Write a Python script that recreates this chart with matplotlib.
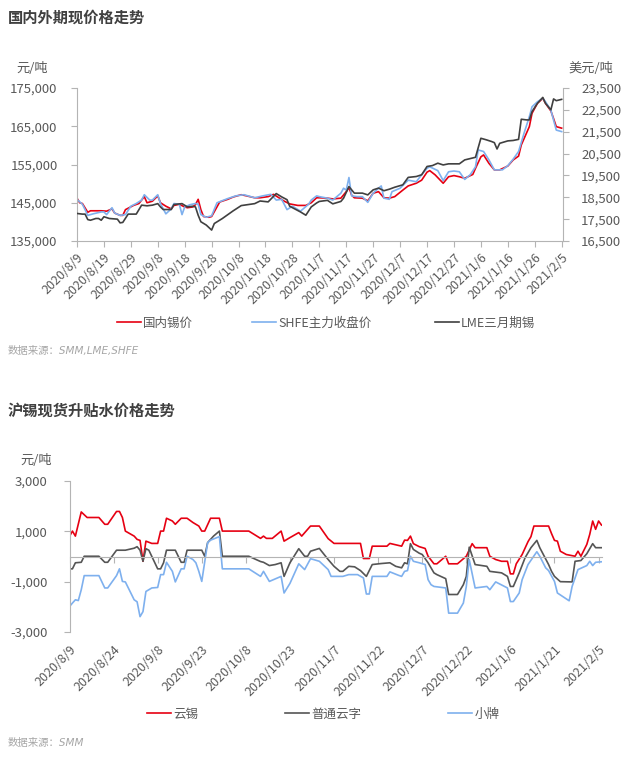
import matplotlib
matplotlib.use("Agg")
import matplotlib.pyplot as plt
import matplotlib.dates as mdates
from matplotlib.ticker import FuncFormatter
import pandas as pd

plt.rcParams['font.family'] = ['Noto Sans CJK SC', 'DejaVu Sans']
plt.rcParams['axes.unicode_minus'] = False

# ---------------- 国内外期现价格走势 ----------------
cn_dates = [
    "2020/8/9", "2020/8/10", "2020/8/11", "2020/8/13", "2020/8/14", "2020/8/18", "2020/8/20", "2020/8/22", "2020/8/23", "2020/8/25", "2020/8/26", "2020/8/27", "2020/8/30",
    "2020/9/1", "2020/9/3", "2020/9/4", "2020/9/6", "2020/9/8", "2020/9/9", "2020/9/11", "2020/9/13", "2020/9/14", "2020/9/16", "2020/9/18", "2020/9/19", "2020/9/21", "2020/9/22", "2020/9/23", "2020/9/24", "2020/9/25", "2020/9/27", "2020/9/28",
    "2020/10/1", "2020/10/4", "2020/10/6", "2020/10/9", "2020/10/11", "2020/10/14", "2020/10/16", "2020/10/19", "2020/10/21", "2020/10/23", "2020/10/25", "2020/10/27", "2020/10/30",
    "2020/11/2", "2020/11/4", "2020/11/6", "2020/11/7", "2020/11/10", "2020/11/12", "2020/11/15", "2020/11/17", "2020/11/18", "2020/11/19", "2020/11/20", "2020/11/23", "2020/11/25", "2020/11/27", "2020/11/29",
    "2020/12/1", "2020/12/3", "2020/12/5", "2020/12/8", "2020/12/10", "2020/12/13", "2020/12/15", "2020/12/17", "2020/12/18", "2020/12/20", "2020/12/23", "2020/12/25", "2020/12/27", "2020/12/29", "2020/12/31",
    "2021/1/3", "2021/1/4", "2021/1/6", "2021/1/7", "2021/1/9", "2021/1/11", "2021/1/13", "2021/1/16", "2021/1/18", "2021/1/20", "2021/1/21", "2021/1/24", "2021/1/25", "2021/1/27", "2021/1/29", "2021/1/30",
    "2021/2/1", "2021/2/2", "2021/2/3", "2021/2/5"]
cn_price = [
    146200, 145000, 144800, 142500, 142900, 142900, 142800, 143400, 142300, 141700, 141700, 143200, 144300,
    144800, 146600, 145000, 145400, 146800, 145000, 144100, 143400, 144300, 144600, 143900, 143700, 143900, 144500, 145900, 143200, 141400, 141200, 141400,
    145200, 145900, 146500, 147100, 146800, 146300, 146300, 146600, 147200, 146300, 145400, 144700, 144300,
    144300, 145000, 146300, 146300, 146200, 146000, 146200, 147900, 149000, 147000, 146300, 146200, 145500, 147500, 147900,
    146300, 146200, 146600, 148300, 149400, 150100, 150900, 153000, 153400, 152300, 150100, 151800, 152100, 151800, 151400,
    152400, 154000, 157000, 157500, 155300, 153600, 153600, 154600, 156200, 157200, 160100, 164900, 168400, 171000, 172300, 171000,
    169000, 167000, 164900, 164500]

shfe_dates = [
    "2020/8/9", "2020/8/11", "2020/8/12", "2020/8/13", "2020/8/15", "2020/8/18", "2020/8/19", "2020/8/20", "2020/8/22", "2020/8/23", "2020/8/25", "2020/8/27", "2020/8/29", "2020/8/31",
    "2020/9/2", "2020/9/3", "2020/9/5", "2020/9/6", "2020/9/8", "2020/9/9", "2020/9/11", "2020/9/13", "2020/9/14", "2020/9/16", "2020/9/17", "2020/9/18", "2020/9/20", "2020/9/22", "2020/9/23", "2020/9/24", "2020/9/26", "2020/9/28", "2020/9/30",
    "2020/10/4", "2020/10/7", "2020/10/10", "2020/10/14", "2020/10/17", "2020/10/20", "2020/10/22", "2020/10/24", "2020/10/26", "2020/10/28", "2020/10/31",
    "2020/11/3", "2020/11/4", "2020/11/6", "2020/11/7", "2020/11/10", "2020/11/12", "2020/11/15", "2020/11/16", "2020/11/17", "2020/11/18", "2020/11/19", "2020/11/21", "2020/11/23", "2020/11/25", "2020/11/27", "2020/11/29", "2020/11/30",
    "2020/12/1", "2020/12/3", "2020/12/4", "2020/12/7", "2020/12/10", "2020/12/13", "2020/12/15", "2020/12/17", "2020/12/18", "2020/12/21", "2020/12/23", "2020/12/25", "2020/12/27", "2020/12/29", "2020/12/31",
    "2021/1/2", "2021/1/4", "2021/1/5", "2021/1/7", "2021/1/9", "2021/1/11", "2021/1/14", "2021/1/16", "2021/1/18", "2021/1/20", "2021/1/22", "2021/1/24", "2021/1/25", "2021/1/27", "2021/1/29", "2021/1/30",
    "2021/2/1", "2021/2/3", "2021/2/5"]
shfe_close = [
    145900, 144600, 143200, 141700, 142100, 142600, 142600, 141900, 143700, 142300, 141700, 141900, 144100, 144800,
    145700, 147100, 145700, 145700, 147100, 144800, 142100, 143400, 144800, 144600, 141900, 143900, 144500, 144800, 144600, 141900, 141200, 141600, 145000,
    146100, 146800, 147100, 146300, 146800, 147200, 145700, 145900, 143200, 144100, 142800,
    144600, 145700, 146800, 146600, 146200, 145700, 147500, 148800, 148300, 151600, 146800, 146600, 146600, 145100, 147500, 148800, 149400,
    146200, 145900, 147900, 148800, 150900, 150500, 152300, 154000, 154400, 153400, 150800, 153100, 153300, 153100, 151100,
    152300, 154400, 158800, 158400, 156200, 153600, 153600, 154700, 156400, 158400, 163100, 167500, 170100, 171400, 172300, 171400,
    169200, 164000, 163600]

lme_dates = [
    "2020/8/9", "2020/8/11", "2020/8/12", "2020/8/13", "2020/8/14", "2020/8/16", "2020/8/17", "2020/8/18", "2020/8/19", "2020/8/21", "2020/8/24", "2020/8/25", "2020/8/26", "2020/8/28", "2020/8/31",
    "2020/9/2", "2020/9/4", "2020/9/6", "2020/9/8", "2020/9/9", "2020/9/10", "2020/9/13", "2020/9/14", "2020/9/17", "2020/9/19", "2020/9/21", "2020/9/22", "2020/9/23", "2020/9/24", "2020/9/26", "2020/9/28", "2020/9/29",
    "2020/10/2", "2020/10/6", "2020/10/9", "2020/10/14", "2020/10/16", "2020/10/19", "2020/10/22", "2020/10/24", "2020/10/26", "2020/10/27", "2020/10/31",
    "2020/11/2", "2020/11/4", "2020/11/6", "2020/11/7", "2020/11/10", "2020/11/12", "2020/11/15", "2020/11/16", "2020/11/18", "2020/11/20", "2020/11/23", "2020/11/25", "2020/11/27", "2020/11/29",
    "2020/12/1", "2020/12/3", "2020/12/5", "2020/12/8", "2020/12/10", "2020/12/13", "2020/12/15", "2020/12/17", "2020/12/19", "2020/12/21", "2020/12/23", "2020/12/25", "2020/12/29", "2020/12/31",
    "2021/1/4", "2021/1/6", "2021/1/8", "2021/1/10", "2021/1/11", "2021/1/12", "2021/1/13", "2021/1/16", "2021/1/18", "2021/1/20", "2021/1/21", "2021/1/23", "2021/1/24", "2021/1/25", "2021/1/27", "2021/1/29", "2021/1/30",
    "2021/2/1", "2021/2/2", "2021/2/3", "2021/2/5"]
lme_3m = [
    17760, 17730, 17730, 17480, 17450, 17530, 17530, 17450, 17610, 17530, 17500, 17330, 17350, 17730, 17730,
    18140, 18110, 18140, 18210, 18060, 17940, 17940, 18170, 18210, 18060, 18090, 18060, 17680, 17380, 17230, 17000, 17300,
    17530, 17880, 18120, 18210, 18330, 18290, 18670, 18520, 18390, 18090, 17830,
    17680, 18060, 18240, 18310, 18360, 18200, 18310, 18460, 18990, 18690, 18690, 18610, 18840, 18920,
    18800, 18870, 18960, 19070, 19410, 19450, 19530, 19910, 19950, 20060, 19980, 20030, 20030, 20210,
    20330, 21200, 21130, 21050, 21000, 20710, 20970, 21080, 21100, 21150, 22070, 22040, 22040, 22420, 22800, 23070, 22800,
    22500, 23000, 22920, 22980]

top_ticks = ["2020/8/9", "2020/8/19", "2020/8/29", "2020/9/8", "2020/9/18", "2020/9/28", "2020/10/8",
             "2020/10/18", "2020/10/28", "2020/11/7", "2020/11/17", "2020/11/27", "2020/12/7", "2020/12/17",
             "2020/12/27", "2021/1/6", "2021/1/16", "2021/1/26", "2021/2/5"]

# ---------------- 沪锡现货升贴水价格走势 ----------------
yx_dates = [
    "2020/8/9", "2020/8/10", "2020/8/11", "2020/8/13", "2020/8/15", "2020/8/19", "2020/8/21", "2020/8/22", "2020/8/25", "2020/8/26", "2020/8/27", "2020/8/28", "2020/8/31",
    "2020/9/1", "2020/9/2", "2020/9/3", "2020/9/4", "2020/9/6", "2020/9/8", "2020/9/9", "2020/9/10", "2020/9/11", "2020/9/13", "2020/9/14", "2020/9/16", "2020/9/18", "2020/9/20", "2020/9/22", "2020/9/23", "2020/9/24", "2020/9/26", "2020/9/29", "2020/9/30",
    "2020/10/9", "2020/10/13", "2020/10/14", "2020/10/15", "2020/10/17", "2020/10/20", "2020/10/21", "2020/10/23", "2020/10/26", "2020/10/27", "2020/10/30",
    "2020/11/2", "2020/11/5", "2020/11/7", "2020/11/16", "2020/11/17", "2020/11/19", "2020/11/20", "2020/11/25", "2020/11/26", "2020/11/30",
    "2020/12/1", "2020/12/2", "2020/12/3", "2020/12/4", "2020/12/6", "2020/12/8", "2020/12/9", "2020/12/11", "2020/12/12", "2020/12/15", "2020/12/16", "2020/12/19", "2020/12/22", "2020/12/24", "2020/12/25", "2020/12/29", "2020/12/30",
    "2021/1/1", "2021/1/3", "2021/1/5", "2021/1/6", "2021/1/7", "2021/1/8", "2021/1/10", "2021/1/12", "2021/1/13", "2021/1/14", "2021/1/19", "2021/1/20", "2021/1/21", "2021/1/22", "2021/1/23", "2021/1/25", "2021/1/28", "2021/1/29", "2021/1/30",
    "2021/2/1", "2021/2/2", "2021/2/3", "2021/2/4", "2021/2/5", "2021/2/6"]
yunxi = [
    800, 1010, 810, 1770, 1550, 1550, 1280, 1280, 1790, 1790, 1550, 1010, 810,
    680, 640, -190, 610, 520, 520, 1010, 1010, 1520, 1410, 1280, 1520, 1520, 1350, 1210, 1010, 1010, 1520, 1520, 1010,
    1010, 720, 810, 720, 720, 1010, 610, 750, 950, 810, 1210,
    1210, 710, 520, 520, -80, -80, 410, 410, 520, 410,
    650, 640, 810, 510, 390, 320, 10, -290, -290, 10, -290, -290, 10, 510, 350, 350, 10,
    -120, -190, -190, -690, -690, -290, 80, 590, 790, 1210, 1210, 910, 640, 610, 210, 80, 10, 210, 10,
    480, 880, 1410, 1080, 1410, 1250]

pt_dates = [
    "2020/8/9", "2020/8/10", "2020/8/11", "2020/8/13", "2020/8/14", "2020/8/19", "2020/8/21", "2020/8/22", "2020/8/25", "2020/8/28", "2020/8/31",
    "2020/9/1", "2020/9/2", "2020/9/3", "2020/9/4", "2020/9/5", "2020/9/8", "2020/9/9", "2020/9/10", "2020/9/11", "2020/9/14", "2020/9/16", "2020/9/17", "2020/9/18", "2020/9/23", "2020/9/24", "2020/9/25", "2020/9/27", "2020/9/29", "2020/9/30",
    "2020/10/9", "2020/10/13", "2020/10/14", "2020/10/16", "2020/10/18", "2020/10/20", "2020/10/21", "2020/10/23", "2020/10/26", "2020/10/28", "2020/10/29", "2020/10/30",
    "2020/11/2", "2020/11/5", "2020/11/7", "2020/11/9", "2020/11/10", "2020/11/12", "2020/11/14", "2020/11/16", "2020/11/18", "2020/11/20", "2020/11/23", "2020/11/26", "2020/11/28", "2020/11/30",
    "2020/12/1", "2020/12/2", "2020/12/3", "2020/12/4", "2020/12/6", "2020/12/7", "2020/12/9", "2020/12/11", "2020/12/12", "2020/12/15", "2020/12/16", "2020/12/19", "2020/12/21", "2020/12/22", "2020/12/23", "2020/12/25", "2020/12/29", "2020/12/30",
    "2021/1/3", "2021/1/5", "2021/1/6", "2021/1/7", "2021/1/9", "2021/1/11", "2021/1/13", "2021/1/15", "2021/1/16", "2021/1/19", "2021/1/20", "2021/1/21", "2021/1/23", "2021/1/27", "2021/1/28", "2021/1/30",
    "2021/2/1", "2021/2/3", "2021/2/4", "2021/2/6"]
putong = [
    -490, -490, -250, -230, 10, 10, -230, -230, 250, 250, 330,
    390, 250, -190, 310, 250, -490, -490, -250, 250, 250, -230, -230, 250, 250, 10, 550, 810, 1010, 10,
    10, -200, -230, -360, -320, -250, -790, -250, 310, 10, 10, 210,
    320, -120, -390, -590, -590, -390, -410, -560, -790, -320, -280, -250, -390, -450,
    -250, -290, 510, 280, 130, 80, -250, -650, -720, -880, -1510, -1510, -1120, -790, 370, -320, -390, -590,
    -650, -790, -1190, -1190, -650, -50, 350, 640, 350, -320, -590, -790, -1000, -1010, -190, -160,
    110, 510, 350, 350]

xp_dates = [
    "2020/8/9", "2020/8/10", "2020/8/11", "2020/8/12", "2020/8/13", "2020/8/14", "2020/8/19", "2020/8/21", "2020/8/22", "2020/8/25", "2020/8/26", "2020/8/27", "2020/8/28", "2020/8/31",
    "2020/9/1", "2020/9/2", "2020/9/3", "2020/9/4", "2020/9/6", "2020/9/8", "2020/9/9", "2020/9/10", "2020/9/11", "2020/9/13", "2020/9/14", "2020/9/16", "2020/9/17", "2020/9/18", "2020/9/20", "2020/9/21", "2020/9/22", "2020/9/23", "2020/9/25", "2020/9/26", "2020/9/29", "2020/9/30",
    "2020/10/9", "2020/10/13", "2020/10/14", "2020/10/16", "2020/10/18", "2020/10/20", "2020/10/21", "2020/10/23", "2020/10/26", "2020/10/28", "2020/10/30", "2020/10/31",
    "2020/11/2", "2020/11/5", "2020/11/6", "2020/11/10", "2020/11/12", "2020/11/15", "2020/11/17", "2020/11/18", "2020/11/19", "2020/11/20", "2020/11/25", "2020/11/26", "2020/11/29", "2020/11/30",
    "2020/12/1", "2020/12/2", "2020/12/3", "2020/12/4", "2020/12/6", "2020/12/8", "2020/12/9", "2020/12/10", "2020/12/11", "2020/12/15", "2020/12/16", "2020/12/19", "2020/12/21", "2020/12/22", "2020/12/23", "2020/12/25", "2020/12/29", "2020/12/30",
    "2021/1/1", "2021/1/5", "2021/1/6", "2021/1/7", "2021/1/9", "2021/1/10", "2021/1/12", "2021/1/15", "2021/1/16", "2021/1/18", "2021/1/19", "2021/1/21", "2021/1/22", "2021/1/26", "2021/1/27", "2021/1/29",
    "2021/2/1", "2021/2/2", "2021/2/3", "2021/2/4", "2021/2/6"]
xiaopai = [
    -1990, -1850, -1720, -1750, -1320, -760, -760, -1250, -1250, -760, -490, -990, -1010, -1720,
    -1800, -2390, -2190, -1390, -1250, -1230, -720, -720, -230, -590, -1010, -490, -490, 10, -120, -250, -590, -990, 550, 650, 790, -490,
    -490, -790, -590, -990, -890, -790, -1450, -1070, -290, -520, -90, -120,
    -190, -520, -790, -790, -720, -720, -850, -1490, -1490, -790, -790, -610, -750, -790,
    -590, -560, 10, -190, -250, -320, -920, -1120, -1190, -1250, -2250, -2250, -1850, -1190, -120, -1250, -1190, -1320,
    -1010, -1250, -1790, -1790, -1450, -920, -320, 190, 10, -450, -560, -990, -1450, -1760, -1190, -520,
    -360, -190, -360, -230, -210]

bottom_ticks = ["2020/8/9", "2020/8/24", "2020/9/8", "2020/9/23", "2020/10/8", "2020/10/23", "2020/11/7",
                "2020/11/22", "2020/12/7", "2020/12/22", "2021/1/6", "2021/1/21", "2021/2/5"]

RED = "#e60012"
BLUE = "#7eb0ee"
DARK = "#404040"
GRID = "#b4b4b4"
TXT = "#595959"

W, H = 633, 763


def d(lst):
    return pd.to_datetime(lst, format="%Y/%m/%d")


def thousands(v, pos):
    return "{:,}".format(int(v))


fig = plt.figure(figsize=(W / 100, H / 100), dpi=100)

# ---- top chart ----
ax1 = fig.add_axes([77 / W, 1 - 241 / H, 486 / W, 153 / H])
ax1r = ax1.twinx()
ax1.plot(d(cn_dates), cn_price, color=RED, lw=1.2, label="国内锡价")
ax1.plot(d(shfe_dates), shfe_close, color=BLUE, lw=1.2, label="SHFE主力收盘价")
ax1r.plot(d(lme_dates), lme_3m, color=DARK, lw=1.2, label="LME三月期锡")

ax1.set_xlim(pd.Timestamp("2020-08-09"), pd.Timestamp("2021-02-05 12:00"))
ax1.set_ylim(135000, 175000)
ax1.set_yticks(range(135000, 175001, 10000))
ax1r.set_ylim(16500, 23500)
ax1r.set_yticks(range(16500, 23501, 1000))
ax1.yaxis.set_major_formatter(FuncFormatter(thousands))
ax1r.yaxis.set_major_formatter(FuncFormatter(thousands))
ax1.set_xticks(mdates.date2num(d(top_ticks)))
ax1.set_xticklabels(top_ticks, rotation=45, ha="right", rotation_mode="anchor")

for a in (ax1, ax1r):
    for s in a.spines.values():
        s.set_color(GRID)
    a.spines["top"].set_visible(False)
    a.tick_params(colors=GRID, labelcolor=TXT, length=4, labelsize=9.5)
ax1.spines["right"].set_visible(False)
ax1r.spines["left"].set_visible(False)
ax1r.spines["bottom"].set_visible(False)
ax1.tick_params(axis="x", labelsize=9, pad=3)
ax1.tick_params(axis="y", pad=10)
ax1r.tick_params(axis="y", pad=9)

fig.text(8 / W, 1 - 18 / H, "国内外期现价格走势", fontsize=11, fontweight="bold", color=DARK, va="center")
fig.text(16 / W, 1 - 68 / H, "元/吨", fontsize=9.5, color=TXT, va="center")
fig.text(568 / W, 1 - 68 / H, "美元/吨", fontsize=9.5, color=TXT, va="center")

top_leg = [(ax1.lines[0], 117), (ax1.lines[1], 252), (ax1r.lines[0], 435)]
for ln, x in top_leg:
    fig.legend(handles=[ln], loc="center left", bbox_to_anchor=(x / W, 1 - 323 / H),
               frameon=False, fontsize=9, handlelength=1.9, handletextpad=0.2,
               borderpad=0, borderaxespad=0, labelcolor=TXT)

fig.text(8 / W, 1 - 351 / H, "数据来源：SMM,LME,SHFE", fontsize=7.5, color="#a6a6a6",
         style="italic", family=["DejaVu Sans", "Noto Sans CJK SC"], va="center")

# ---- bottom chart ----
ax2 = fig.add_axes([69.5 / W, 1 - 632 / H, 532 / W, 151 / H])
ax2.plot(d(yx_dates), yunxi, color=RED, lw=1.2, label="云锡")
ax2.plot(d(pt_dates), putong, color="#555555", lw=1.2, label="普通云字")
ax2.plot(d(xp_dates), xiaopai, color=BLUE, lw=1.2, label="小牌")

ax2.set_xlim(pd.Timestamp("2020-08-09"), pd.Timestamp("2021-02-06"))
ax2.set_ylim(-3000, 3000)
ax2.set_yticks([-3000, -1000, 1000, 3000])
ax2.yaxis.set_major_formatter(FuncFormatter(thousands))
bt = mdates.date2num(d(bottom_ticks))
ax2.set_xticks(bt)
ax2.set_xticklabels([])
ax2.spines["bottom"].set_position(("data", 0))
for s in ax2.spines.values():
    s.set_color(GRID)
ax2.spines["top"].set_visible(False)
ax2.spines["right"].set_visible(False)
ax2.tick_params(colors=GRID, labelcolor=TXT, length=4, labelsize=9.5)
ax2.tick_params(axis="y", pad=12)

sec = ax2.secondary_xaxis("bottom")
sec.set_xticks(bt)
sec.set_xticklabels(bottom_ticks, rotation=45, ha="right", rotation_mode="anchor")
sec.tick_params(length=0, labelcolor=TXT, labelsize=9, pad=8)
sec.spines["bottom"].set_visible(False)

fig.text(8 / W, 1 - 411 / H, "沪锡现货升贴水价格走势", fontsize=11, fontweight="bold", color=DARK, va="center")
fig.text(20 / W, 1 - 460 / H, "元/吨", fontsize=9.5, color=TXT, va="center")

bot_leg = [(ax2.lines[0], 147), (ax2.lines[1], 285), (ax2.lines[2], 448)]
for ln, x in bot_leg:
    fig.legend(handles=[ln], loc="center left", bbox_to_anchor=(x / W, 1 - 714 / H),
               frameon=False, fontsize=9, handlelength=1.9, handletextpad=0.2,
               borderpad=0, borderaxespad=0, labelcolor=TXT)

fig.text(8 / W, 1 - 743 / H, "数据来源：SMM", fontsize=7.5, color="#a6a6a6",
         style="italic", family=["DejaVu Sans", "Noto Sans CJK SC"], va="center")

fig.savefig("out.png", dpi=100)
